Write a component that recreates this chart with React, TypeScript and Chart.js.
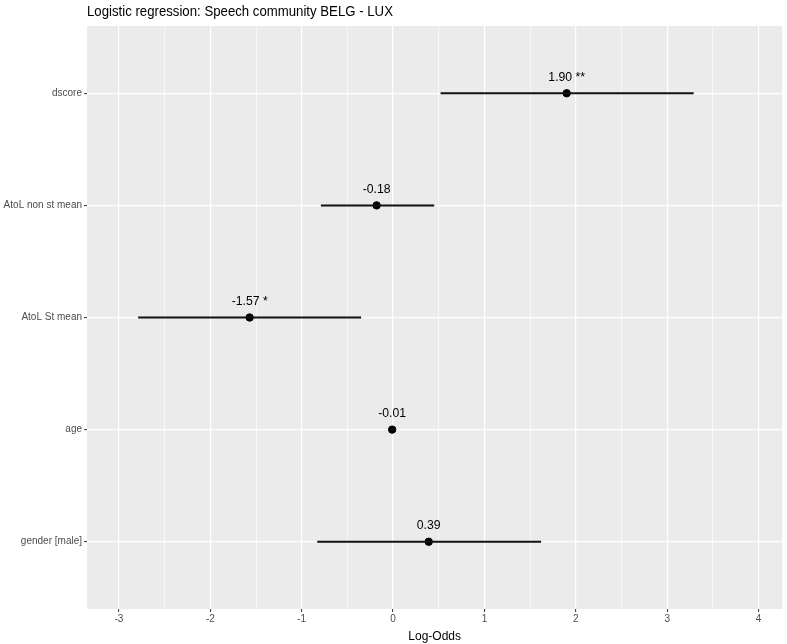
import React, { useEffect, useRef } from "react";
import { Chart, registerables } from "chart.js";

Chart.register(...registerables);

const TITLE = "Logistic regression: Speech community BELG - LUX";
const X_TITLE = "Log-Odds";
const terms = ["gender [male]", "age", "AtoL St mean", "AtoL non st mean", "dscore"];
const estimates = [0.39, -0.01, -1.57, -0.18, 1.9];
const lowerCI = [-0.83, -0.03, -2.79, -0.79, 0.52];
const upperCI = [1.62, 0.01, -0.35, 0.45, 3.29];
const pointLabels = ["0.39", "-0.01", "-1.57 *", "-0.18", "1.90 **"];
const xTicks = [-3, -2.5, -2, -1.5, -1, -0.5, 0, 0.5, 1, 1.5, 2, 2.5, 3, 3.5, 4];

const FONT = "'Liberation Sans', Arial, Helvetica, sans-serif";

const panelPlugin = {
  id: "panel",
  beforeDraw(chart: any) {
    const { ctx, chartArea } = chart;
    ctx.save();
    ctx.fillStyle = "#EBEBEB";
    ctx.fillRect(chartArea.left, chartArea.top, chartArea.right - chartArea.left, chartArea.bottom - chartArea.top);
    ctx.restore();
  },
  afterDraw(chart: any) {
    const { ctx, chartArea } = chart;
    ctx.save();
    ctx.fillStyle = "#000";
    ctx.font = `15px ${FONT}`;
    ctx.textAlign = "left";
    ctx.textBaseline = "middle";
    ctx.translate(chartArea.left, 12);
    ctx.scale(0.88, 1);
    ctx.fillText(TITLE, 0, 0);
    ctx.restore();
  },
};

const labelPlugin = {
  id: "pointLabels",
  afterDatasetsDraw(chart: any) {
    const { ctx } = chart;
    const xs = chart.scales.x;
    const ys = chart.scales.y;
    ctx.fillStyle = "#000";
    estimates.forEach((v, i) => {
      const px = xs.getPixelForValue(v);
      const py = ys.getPixelForValue(i + 1);
      ctx.save();
      ctx.font = `13px ${FONT}`;
      ctx.textAlign = "center";
      ctx.textBaseline = "middle";
      ctx.translate(px, py - 16);
      ctx.scale(0.94, 1);
      ctx.fillText(pointLabels[i], 0, 0);
      ctx.restore();
    });
  },
};

export default function App() {
  const ref = useRef<HTMLCanvasElement>(null);
  useEffect(() => {
    if (!ref.current) return;
    const ciSets = terms.map((t, i) => ({
      type: "line" as const,
      label: t + " CI",
      data: [
        { x: lowerCI[i], y: i + 1 },
        { x: upperCI[i], y: i + 1 },
      ],
      borderColor: "#111",
      borderWidth: 2,
      pointRadius: 0,
      showLine: true,
      fill: false,
    }));
    const chart = new Chart(ref.current, {
      type: "scatter",
      data: {
        datasets: [
          ...ciSets,
          {
            type: "scatter" as const,
            label: "estimate",
            data: estimates.map((v, i) => ({ x: v, y: i + 1 })),
            backgroundColor: "#000",
            borderColor: "#000",
            pointRadius: 3.7,
            pointHoverRadius: 3.7,
          },
        ] as any,
      },
      options: {
        animation: false,
        responsive: false,
        events: [],
        layout: { padding: { top: 26, right: 0, left: 0, bottom: 0 } },
        plugins: {
          legend: { display: false },
          tooltip: { enabled: false },
          title: { display: false },
        },
        scales: {
          x: {
            type: "linear",
            min: -3.35,
            max: 4.26,
            afterBuildTicks: (axis: any) => {
              axis.ticks = xTicks.map((v) => ({ value: v }));
            },
            afterFit: (axis: any) => {
              axis.height = 35;
            },
            border: { display: false },
            grid: {
              color: "#FFFFFF",
              lineWidth: (c: any) => (Number.isInteger(c.tick?.value) ? 1.2 : 0.6),
              drawTicks: true,
              tickLength: 3,
              tickColor: (c: any) => (Number.isInteger(c.tick?.value) ? "#333333" : "rgba(0,0,0,0)"),
              tickWidth: 1,
            },
            ticks: {
              color: "#4D4D4D",
              font: { family: FONT, size: 10 },
              padding: 1,
              maxRotation: 0,
              autoSkip: false,
              callback: (v: any) => (Number.isInteger(v) ? String(v) : ""),
            },
            title: {
              display: true,
              text: X_TITLE,
              color: "#000",
              font: { family: FONT, size: 12 },
              padding: { top: 0, bottom: 0 },
            },
          },
          y: {
            type: "linear",
            min: 0.4,
            max: 5.6,
            afterBuildTicks: (axis: any) => {
              axis.ticks = terms.map((_, i) => ({ value: i + 1 }));
            },
            afterFit: (axis: any) => {
              axis.width = 87;
            },
            border: { display: false },
            grid: {
              color: "#FFFFFF",
              lineWidth: 1.2,
              drawTicks: true,
              tickLength: 3,
              tickColor: "#333333",
              tickWidth: 1,
            },
            ticks: {
              color: "#4D4D4D",
              font: { family: FONT, size: 10 },
              padding: 2,
              autoSkip: false,
              callback: (v: any) => terms[Math.round(v) - 1] ?? "",
            },
          },
        },
      },
      plugins: [panelPlugin, labelPlugin],
    });
    return () => chart.destroy();
  }, []);
  return (
    <div style={{ position: "absolute", left: 0, top: 0, width: 787, height: 644, background: "#fff" }}>
      <canvas ref={ref} width={787} height={644} style={{ display: "block" }} />
    </div>
  );
}
